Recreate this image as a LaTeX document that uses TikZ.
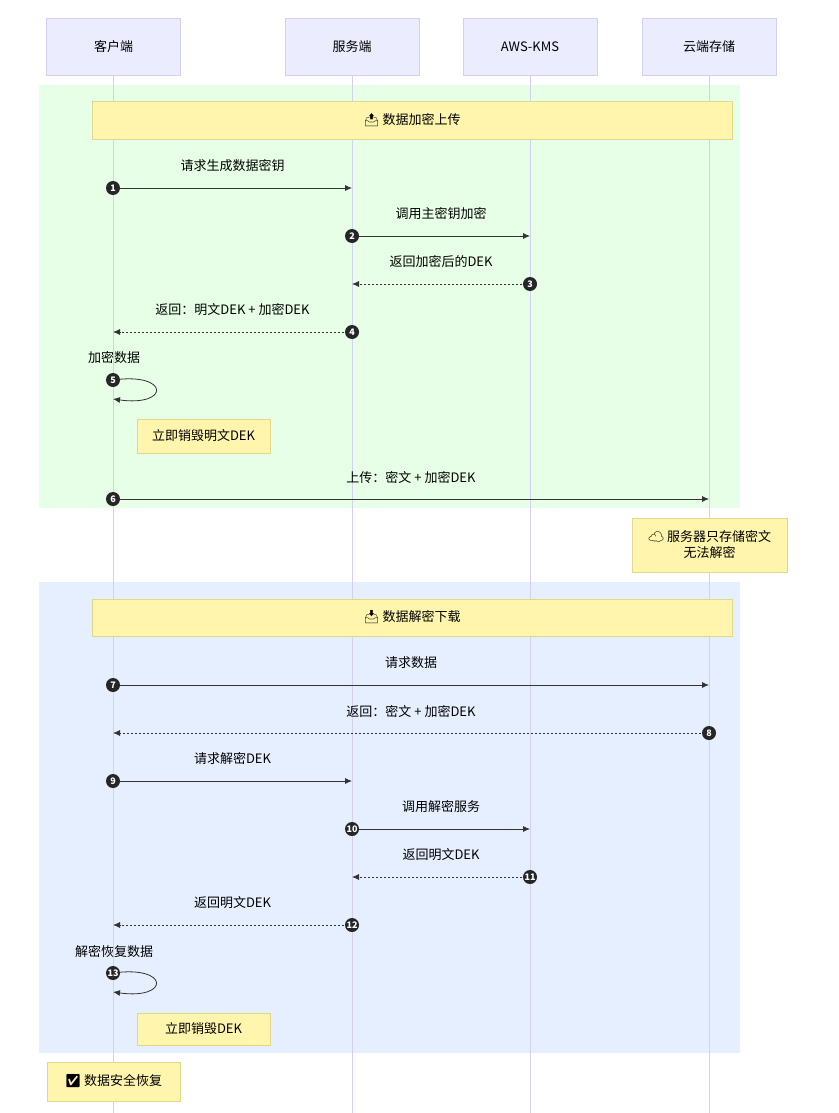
\documentclass[tikz,border=0pt]{standalone}
\usepackage{fontspec}
\setmainfont{Noto Sans CJK SC}
\newfontfamily\emo{Noto Emoji}
\usetikzlibrary{arrows.meta}
\definecolor{actf}{HTML}{ECECFF}
\definecolor{actd}{HTML}{D4D0F4}
\definecolor{grn}{HTML}{E6FFE6}
\definecolor{blu}{HTML}{E6EFFF}
\definecolor{nf}{HTML}{FFF5AD}
\definecolor{nd}{HTML}{E0D88A}
\begin{document}
\begin{tikzpicture}[x=1pt,y=-1pt,font=\fontsize{13}{16}\selectfont,
actor/.style={draw=actd,fill=actf,minimum width=134,minimum height=57,inner sep=0},
notebox/.style={draw=nd,fill=nf,inner sep=0},
msg/.style={-{Latex[length=7,width=6]},draw=black!80,line width=0.8},
ret/.style={msg,dashed,dash pattern=on 2pt off 2pt},
num/.style={circle,fill=black!85,text=white,inner sep=0,minimum size=14,font=\fontsize{9}{9}\selectfont\bfseries},
lab/.style={font=\fontsize{13}{16}\selectfont}]
\useasboundingbox (0,0) rectangle (838,1113);
\fill[grn] (39,85) rectangle (740,508);
\fill[blu] (39,582) rectangle (740,1053);
\foreach \x/\n in {113/a,352/b,530/c,709/d}{
 \draw[actd,line width=1] (\x,75) -- (\x,1113);
 \coordinate (\n) at (\x,0);}
\node[actor] (A) at (113.5,46.5) {客户端};
\node[actor] (B) at (352,46.5) {服务端};
\node[actor] (C) at (530,46.5) {AWS-KMS};
\node[actor] (D) at (709,46.5) {云端存储};
\node[notebox,minimum width=640,minimum height=38] (n1) at (412,120) {{\emo 📤} 数据加密上传};
\node[notebox,minimum width=640,minimum height=37] (n2) at (412,617.5) {{\emo 📥} 数据解密下载};
\node[notebox,minimum width=133,minimum height=34] (n3) at (203.5,436) {立即销毁明文DEK};
\node[notebox,minimum width=133,minimum height=32] (n4) at (203.5,1029) {立即销毁DEK};
\node[notebox,minimum width=155,minimum height=54,align=center] (n5) at (709.5,545) {{\emo ☁} 服务器只存储密文\\无法解密};
\node[notebox,minimum width=133,minimum height=39] (n6) at (113.5,1081.5) {{\emo ✅} 数据安全恢复};
\def\M#1#2#3#4#5#6{\coordinate (s#1) at (#2,#4); \coordinate (e#1) at (#3,#4);
 \draw[#6] (s#1) -- (e#1); \node[lab] (l#1) at ({(#2+#3)/2},#4-22) {#5}; \node[num] (c#1) at (s#1) {#1};}
\M{1}{113}{352}{188}{请求生成数据密钥}{msg}
\M{2}{352}{530}{236}{调用主密钥加密}{msg}
\M{3}{530}{352}{284}{返回加密后的DEK}{ret}
\M{4}{352}{113}{332}{返回：明文DEK + 加密DEK}{ret}
\M{6}{113}{709}{499}{上传：密文 + 加密DEK}{msg}
\M{7}{113}{709}{685}{请求数据}{msg}
\M{8}{709}{113}{733}{返回：密文 + 加密DEK}{ret}
\M{9}{113}{352}{781}{请求解密DEK}{msg}
\M{10}{352}{530}{829}{调用解密服务}{msg}
\M{11}{530}{352}{877}{返回明文DEK}{ret}
\M{12}{352}{113}{925}{返回明文DEK}{ret}
\coordinate (s5) at (113,380); \coordinate (e5) at (113,399);
\draw[msg] (s5) .. controls (170,372) and (170,407) .. (e5);
\node[lab] (l5) at (114,358) {加密数据}; \node[num] (c5) at (s5) {5};
\coordinate (s13) at (113,973); \coordinate (e13) at (113,992);
\draw[msg] (s13) .. controls (170,965) and (170,1000) .. (e13);
\node[lab] (l13) at (114,952) {解密恢复数据}; \node[num] (c13) at (s13) {13};
\end{tikzpicture}
\end{document}
